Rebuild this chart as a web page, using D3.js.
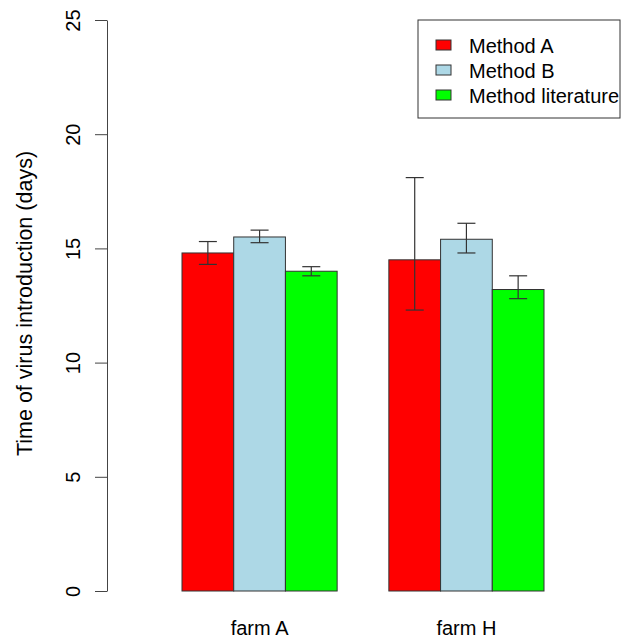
<!DOCTYPE html>
<html>
<head>
<meta charset="utf-8">
<script src="https://cdn.jsdelivr.net/npm/d3@7"></script>
<style>
  body { margin: 0; background: #fff; }
  text { font-family: "Liberation Sans", Arial, sans-serif; fill: #000; }
</style>
</head>
<body>
<div id="chart"></div>
<script>
// data
var farms = ["farm A", "farm H"];
var methods = ["Method A", "Method B", "Method literature"];
var colours = ["#ff0000", "#add8e6", "#00ff00"];
var means = [[14.8, 15.5, 14.0], [14.5, 15.4, 13.2]];
var lower = [[14.3, 15.25, 13.8], [12.3, 14.8, 12.8]];
var upper = [[15.3, 15.8, 14.2], [18.1, 16.1, 13.8]];
var yTicks = [0, 5, 10, 15, 20, 25];

var svgWidth = 622, svgHeight = 639;

var svg = d3.select("#chart").append("svg")
    .attr("width", svgWidth).attr("height", svgHeight);

// scales
var y = d3.scaleLinear().domain([0, 25]).range([591, 20]);
var x0 = d3.scaleBand().domain(farms).range([182, 544])
    .paddingInner(0.25).paddingOuter(0);
var x1 = d3.scaleBand().domain(methods).range([0, x0.bandwidth()]).padding(0);
var colour = d3.scaleOrdinal().domain(methods).range(colours);

// flatten into one row per bar
var rows = [];
farms.forEach(function(f, i) {
    methods.forEach(function(m, j) {
        rows.push({farm: f, method: m, mean: means[i][j], lo: lower[i][j], hi: upper[i][j]});
    });
});

// bars
svg.append("g").selectAll("rect")
    .data(rows).enter().append("rect")
        .attr("x", function(d) { return x0(d.farm) + x1(d.method); })
        .attr("y", function(d) { return y(d.mean); })
        .attr("width", x1.bandwidth())
        .attr("height", function(d) { return y(0) - y(d.mean); })
        .attr("fill", function(d) { return colour(d.method); })
        .attr("stroke", "#333")
        .attr("stroke-width", 1);

// error bars
var err = svg.append("g").attr("stroke", "#333").attr("stroke-width", 1.2);
rows.forEach(function(d) {
    var cx = x0(d.farm) + x1(d.method) + x1.bandwidth() / 2;
    err.append("line").attr("x1", cx).attr("x2", cx)
        .attr("y1", y(d.lo)).attr("y2", y(d.hi));
    err.append("line").attr("x1", cx - 9).attr("x2", cx + 9)
        .attr("y1", y(d.lo)).attr("y2", y(d.lo));
    err.append("line").attr("x1", cx - 9).attr("x2", cx + 9)
        .attr("y1", y(d.hi)).attr("y2", y(d.hi));
});

// y axis
var yAxis = svg.append("g")
    .attr("transform", "translate(107 0)")
    .call(d3.axisLeft(y).tickValues(yTicks).tickSize(12).tickSizeOuter(0));
yAxis.select(".domain").attr("stroke", "#444");
yAxis.selectAll(".tick line").attr("stroke", "#444");
yAxis.selectAll("text")
    .attr("x", null).attr("dy", null)
    .attr("transform", "translate(-27 0) rotate(-90)")
    .attr("text-anchor", "middle")
    .attr("font-size", "20px")
    .attr("font-family", "Liberation Sans, Arial, sans-serif")
    .attr("fill", "#000");

// y title
svg.append("text")
    .attr("transform", "translate(32 " + ((y(0) + y(25)) / 2 - 2) + ") rotate(-90)")
    .attr("text-anchor", "middle")
    .attr("font-size", "21.5px")
    .text("Time of virus introduction (days)");

// x labels
svg.append("g").selectAll("text")
    .data(farms).enter().append("text")
        .attr("x", function(d) { return x0(d) + x0.bandwidth() / 2; })
        .attr("y", 635)
        .attr("text-anchor", "middle")
        .attr("font-size", "20px")
        .text(function(d) { return d; });

// legend
var legend = svg.append("g").attr("class", "legend");
legend.append("rect")
    .attr("x", 418).attr("y", 20).attr("width", 202).attr("height", 98)
    .attr("fill", "none").attr("stroke", "#333").attr("stroke-width", 1);
var item = legend.selectAll("g.item")
    .data(methods).enter().append("g")
        .attr("class", "item")
        .attr("transform", function(d, i) { return "translate(436 " + (45 + i * 25) + ")"; });
item.append("rect")
    .attr("x", 0).attr("y", -5).attr("width", 15).attr("height", 10)
    .attr("fill", function(d) { return colour(d); })
    .attr("stroke", "#333");
item.append("text")
    .attr("x", 33).attr("y", 8)
    .attr("font-size", "20px")
    .text(function(d) { return d; });
</script>
</body>
</html>
